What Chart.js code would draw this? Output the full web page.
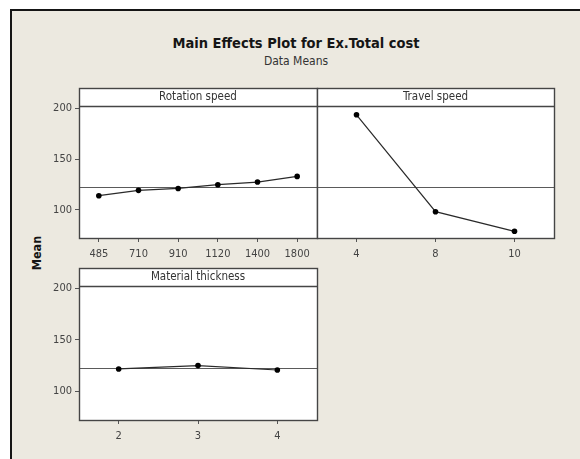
<!DOCTYPE html>
<html>
<head>
<meta charset="utf-8">
<script src="https://cdn.jsdelivr.net/npm/chart.js@4/dist/chart.umd.min.js"></script>
<style>
  html, body { margin: 0; padding: 0; background: #fff; }
  #page { position: relative; width: 580px; height: 459px; overflow: hidden; background: #fff; }
  #frame { position: absolute; left: 10px; top: 9px; width: 570px; height: 450px; box-sizing: border-box;
           background: #ECE9E0; border-left: 2px solid #151515; border-top: 2px solid #151515; }
  .txt { position: absolute; white-space: nowrap; font-family: "DejaVu Sans Condensed", "DejaVu Sans", sans-serif; }
  #title { left: 96px; width: 400px; top: 34px; text-align: center; font-size: 14.5px; font-weight: bold;
           line-height: 18px; color: #151515; }
  #subtitle { left: 96px; width: 400px; top: 54px; text-align: center; font-size: 12px; line-height: 15px; color: #333; }
  #ylabel { left: 7px; width: 60px; top: 245px; text-align: center; font-size: 12.5px; font-weight: bold;
            line-height: 16px; color: #151515; transform: rotate(-90deg); }
  canvas { position: absolute; left: 0; top: 0; }
</style>
</head>
<body>
<div id="page">
  <div id="frame"></div>
  <div class="txt" id="title">Main Effects Plot for Ex.Total cost</div>
  <div class="txt" id="subtitle">Data Means</div>
  <div class="txt" id="ylabel">Mean</div>
  <canvas id="rotation" width="580" height="459"></canvas>
  <canvas id="travel" width="580" height="459"></canvas>
  <canvas id="thickness" width="580" height="459"></canvas>
</div>
<script>
// Factor levels and the mean response at each level
const rotationLevels = ['485', '710', '910', '1120', '1400', '1800'];
const rotationMeans = [113.8, 119.1, 121.0, 124.7, 127.3, 132.9];

const travelLevels = ['4', '8', '10'];
const travelMeans = [193.8, 98.0, 78.6];

const thicknessLevels = ['2', '3', '4'];
const thicknessMeans = [121.7, 125.0, 120.7];

// Overall mean of the response, drawn as a reference line in every panel
const grandMean = 122.5;

// Shared y range and tick values
const yMin = 72;
const yMax = 202.5;
const yTicks = [100, 150, 200];

const FONT_FAMILY = '"DejaVu Sans Condensed", "DejaVu Sans", sans-serif';
const Y_AXIS_W = 40;
const X_AXIS_H = 30;
const STRIP_H = 18;

// Draws the white panel, the header strip with the factor name,
// the grand-mean reference line and the panel outline.
const panelPlugin = {
  id: 'panel',
  beforeDraw(chart, args, opts) {
    const { ctx, chartArea: a } = chart;
    ctx.save();
    ctx.fillStyle = '#ffffff';
    ctx.fillRect(a.left, a.top - STRIP_H, a.right - a.left, a.bottom - a.top + STRIP_H);
    ctx.restore();
  },
  beforeDatasetsDraw(chart, args, opts) {
    const { ctx, chartArea: a } = chart;
    const y = Math.round(chart.scales.y.getPixelForValue(opts.reference)) + 0.5;
    ctx.save();
    ctx.strokeStyle = '#5a5a5a';
    ctx.lineWidth = 1.2;
    ctx.beginPath();
    ctx.moveTo(a.left, y);
    ctx.lineTo(a.right, y);
    ctx.stroke();
    ctx.restore();
  },
  afterDraw(chart, args, opts) {
    const { ctx, chartArea: a } = chart;
    ctx.save();
    ctx.strokeStyle = '#454545';
    ctx.lineWidth = 1.4;
    ctx.strokeRect(a.left + 0.5, a.top - STRIP_H + 0.5, a.right - a.left, a.bottom - a.top + STRIP_H);
    ctx.beginPath();
    ctx.moveTo(a.left, a.top + 0.5);
    ctx.lineTo(a.right, a.top + 0.5);
    ctx.stroke();
    ctx.fillStyle = '#333';
    ctx.font = '11.5px ' + FONT_FAMILY;
    ctx.textAlign = 'center';
    ctx.textBaseline = 'middle';
    ctx.fillText(opts.header, (a.left + a.right) / 2, a.top - STRIP_H / 2 + 0.5);
    ctx.restore();
  }
};

function makePanel(canvasId, labels, values, header, box, showY) {
  const tickFont = { family: FONT_FAMILY, size: 11 };
  const yAxis = {
    display: showY,
    min: yMin,
    max: yMax,
    bounds: 'data',
    afterBuildTicks: (s) => { s.ticks = yTicks.map((v) => ({ value: v })); },
    grid: { display: true, drawOnChartArea: false, drawTicks: true, tickLength: 4, color: '#555', lineWidth: 1 },
    border: { display: false },
    ticks: { font: tickFont, color: '#444', padding: 3 }
  };
  if (showY) yAxis.afterFit = (s) => { s.width = Y_AXIS_W; };

  return new Chart(document.getElementById(canvasId), {
    type: 'line',
    data: {
      labels: labels,
      datasets: [{
        data: values,
        borderColor: '#2a2a2a',
        borderWidth: 1.2,
        pointRadius: 2.8,
        pointBackgroundColor: '#000',
        pointBorderColor: '#000',
        pointBorderWidth: 0,
        tension: 0,
        fill: false
      }]
    },
    options: {
      responsive: false,
      animation: false,
      devicePixelRatio: 1,
      events: [],
      layout: {
        padding: {
          left: box.left - (showY ? Y_AXIS_W : 0),
          right: 580 - box.right,
          top: box.top,
          bottom: 459 - box.bottom - X_AXIS_H
        }
      },
      plugins: {
        legend: { display: false },
        tooltip: { enabled: false },
        panel: { header: header, reference: grandMean }
      },
      scales: {
        x: {
          type: 'category',
          offset: true,
          grid: { display: true, drawOnChartArea: false, drawTicks: true, tickLength: 4, color: '#555', lineWidth: 1, offset: false },
          border: { display: false },
          ticks: { font: tickFont, color: '#444', padding: 6, maxRotation: 0, autoSkip: false },
          afterFit: (s) => { s.height = X_AXIS_H; }
        },
        y: yAxis
      }
    },
    plugins: [panelPlugin]
  });
}

makePanel('rotation', rotationLevels, rotationMeans, 'Rotation speed',
  { left: 79, right: 317, top: 106, bottom: 238 }, true);
makePanel('travel', travelLevels, travelMeans, 'Travel speed',
  { left: 317, right: 554, top: 106, bottom: 238 }, false);
makePanel('thickness', thicknessLevels, thicknessMeans, 'Material thickness',
  { left: 79, right: 317, top: 286, bottom: 420 }, true);
</script>
</body>
</html>
